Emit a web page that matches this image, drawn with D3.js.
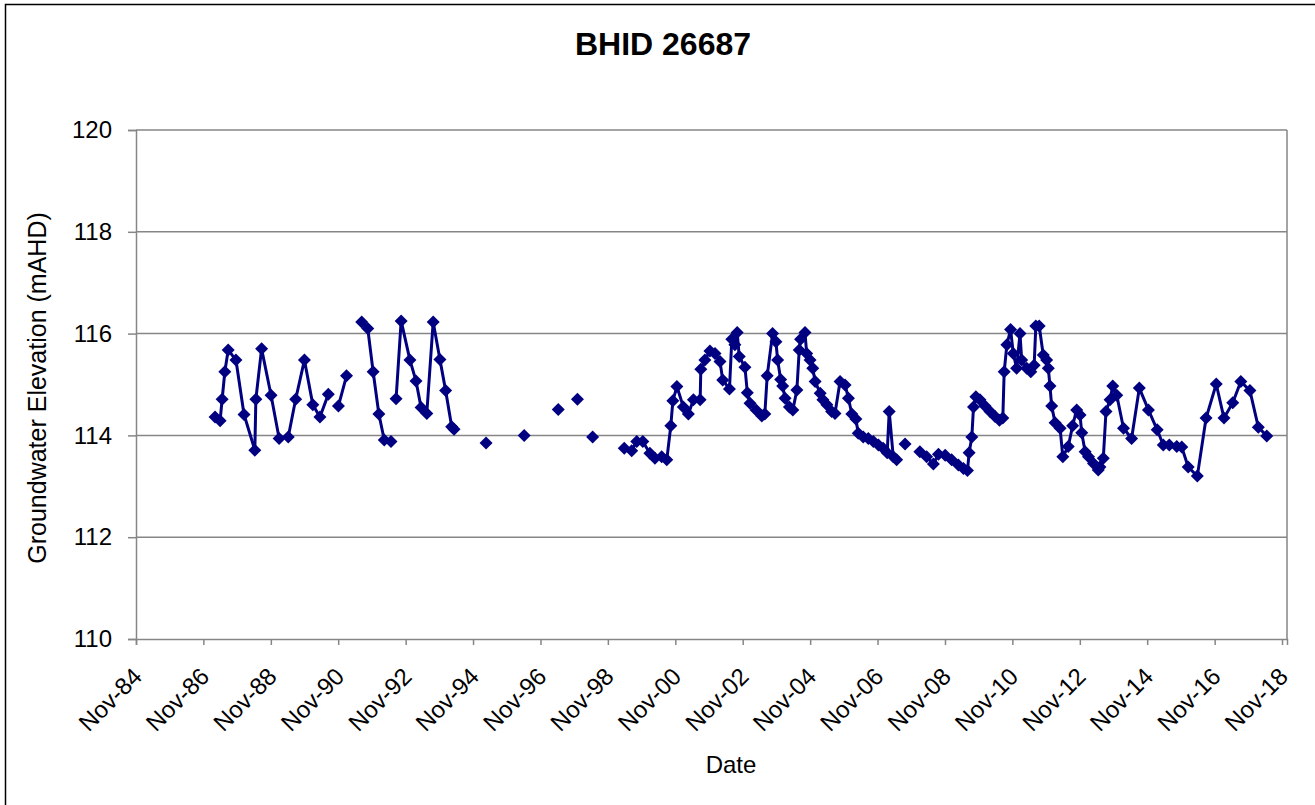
<!DOCTYPE html>
<html>
<head>
<meta charset="utf-8">
<script src="https://cdn.jsdelivr.net/npm/d3@7"></script>
<style>
  html, body { margin: 0; padding: 0; background: #fff; }
  svg { display: block; font-family: "Liberation Sans", Arial, sans-serif; }
</style>
</head>
<body>
<svg id="chart" width="1315" height="805"></svg>
<script>
// ---- Data (dates as decimal years; null level = gap in the line) ----
const chartTitle = "BHID 26687";
const xTitle = "Date";
const yTitle = "Groundwater Elevation  (mAHD)";

const dates = [
  1987.18, 1987.33, 1987.39, 1987.47, 1987.57, 1987.80, 1988.04, 1988.36, 1988.39, 1988.56,
  1988.84, 1989.08, 1989.35, 1989.57, 1989.83, 1990.08, 1990.29, 1990.54, 1990.70, 1990.84,
  1991.08, 1991.30, 1991.53, 1991.71, 1991.87, 1992.04, 1992.20, 1992.40, 1992.48, 1992.55,
  1992.70, 1992.96, 1993.14, 1993.29, 1993.46, 1993.65, 1993.85, 1994.02, 1994.20, 1994.27,
  1994.70, 1995.22, 1995.80, 1996.35, 1996.90, 1997.36, 1997.60, 1997.93, 1998.10, 1998.38,
  1998.80,
  1999.32, 1999.54, 1999.69, 1999.87, 2000.08, 2000.23, 2000.43, 2000.58, 2000.70, 2000.76,
  2000.88, 2001.07, 2001.22, 2001.37, 2001.57, 2001.59, 2001.71, 2001.86, 2002.01, 2002.16,
  2002.24, 2002.44, 2002.51, 2002.60, 2002.67, 2002.73, 2002.90, 2002.97, 2003.05, 2003.23,
  2003.40, 2003.49, 2003.56, 2003.72, 2003.82, 2003.87, 2003.96, 2004.02, 2004.09, 2004.22,
  2004.32, 2004.44, 2004.51, 2004.55, 2004.68, 2004.73, 2004.83, 2004.91, 2004.98, 2005.13,
  2005.21, 2005.33, 2005.47, 2005.57, 2005.72, 2005.87, 2005.97, 2006.07, 2006.19, 2006.26,
  2006.41, 2006.56, 2006.71, 2006.86, 2007.00, 2007.12, 2007.18, 2007.30, 2007.40, 2007.52,
  2007.65, 2007.85,
  2008.09, 2008.29, 2008.49, 2008.64, 2008.84, 2009.03, 2009.23, 2009.38, 2009.50, 2009.55,
  2009.63, 2009.68, 2009.75, 2009.87, 2010.02, 2010.17, 2010.32, 2010.45, 2010.55, 2010.59,
  2010.67, 2010.78, 2010.86, 2010.96, 2011.06, 2011.11, 2011.26, 2011.38, 2011.48, 2011.53,
  2011.63, 2011.75, 2011.85, 2011.90, 2011.95, 2012.00, 2012.10, 2012.25, 2012.33, 2012.49,
  2012.62, 2012.74, 2012.84, 2012.89, 2012.99, 2013.09, 2013.24, 2013.38, 2013.43, 2013.53,
  2013.61, 2013.73, 2013.81, 2013.93, 2014.13, 2014.37, 2014.60, 2014.87, 2015.13, 2015.31,
  2015.49, 2015.71, 2015.86, 2016.05, 2016.32, 2016.58, 2016.88, 2017.11, 2017.37, 2017.61,
  2017.88, 2018.13, 2018.38
];
const levels = [
  114.36, 114.29, 114.71, 115.25, 115.68, 115.48, 114.41, 113.71, 114.71, 115.70,
  114.79, 113.94, 113.97, 114.71, 115.48, 114.60, 114.36, 114.81, null,   114.58,
  115.17, null,   116.23, 116.10, 115.25, 114.42, 113.91, 113.88, null,   114.72,
  116.25, 115.48, 115.07, 114.55, 114.43, 116.23, 115.49, 114.88, 114.17, 114.12,
  null,   113.85, null,   114.00, null,   114.51, null,   114.71, null,   113.97,
  null,
  113.75, 113.70, 113.88, 113.88, 113.65, 113.55, 113.58, 113.52, 114.19, 114.68,
  114.96, 114.56, 114.42, 114.70, 114.70, 115.30, 115.48, 115.66, 115.61, 115.45,
  115.09, 114.91, 115.89, 115.78, 116.02, 115.55, 115.34, 114.84, 114.63, 114.50,
  114.38, 114.42, 115.17, 116.00, 115.84, 115.48, 115.10, 114.97, 114.73, 114.56,
  114.50, 114.89, 115.68, 115.89, 116.02, 115.61, 115.48, 115.32, 115.06, 114.83,
  114.70, 114.60, 114.47, 114.43, 115.06, 114.99, 114.73, 114.42, 114.32, 114.04,
  113.97, 113.94, 113.88, 113.81, 113.75, 113.66, 114.47, 113.58, 113.52, null,
  113.83, null,
  113.68, 113.58, 113.44, 113.63, 113.61, 113.52, 113.42, 113.35, 113.31, 113.66,
  113.97, 114.56, 114.76, 114.70, 114.58, 114.47, 114.37, 114.30, 114.34, 115.25,
  115.78, 116.08, 115.61, 115.32, 116.00, 115.48, 115.32, 115.25, 115.38, 116.15,
  116.15, 115.58, 115.48, 115.32, 114.97, 114.58, 114.25, 114.14, 113.58, 113.78,
  114.19, 114.50, 114.40, 114.05, 113.68, 113.58, 113.45, 113.32, 113.38, 113.55,
  114.47, 114.70, 114.97, 114.79, 114.14, 113.94, 114.93, 114.50, 114.11, 113.81,
  113.81, 113.78, 113.77, 113.38, 113.20, 114.34, 115.01, 114.34, 114.64, 115.06,
  114.88, 114.16, 113.99
];
const xTickYears = [1984, 1986, 1988, 1990, 1992, 1994, 1996, 1998, 2000, 2002,
                    2004, 2006, 2008, 2010, 2012, 2014, 2016, 2018];
const yTicks = [110, 112, 114, 116, 118, 120];

// ---- helpers ----
function decToDate(dy) {
  const yr = Math.floor(dy);
  const start = new Date(yr, 0, 1), end = new Date(yr + 1, 0, 1);
  return new Date(start.getTime() + (dy - yr) * (end - start));
}
const data = dates.map((d, i) => ({ date: decToDate(d), v: levels[i] }));

// ---- layout ----
const svg = d3.select("#chart");
const pLeft = 136, pRight = 1287, pTop = 130, pBottom = 639;

const x = d3.scaleTime()
  .domain([new Date(1984, 10, 1), new Date(2018, 11, 25)])
  .range([pLeft, pRight]);
const y = d3.scaleLinear().domain([110, 120]).range([pBottom, pTop]);

// outer chart border
svg.append("rect").attr("x", 5.5).attr("y", 4.5).attr("width", 1330).attr("height", 820)
  .attr("fill", "none").attr("stroke", "#000").attr("stroke-width", 1.5);

// gridlines
svg.append("g").selectAll("line").data(yTicks.filter(t => t > 110)).join("line")
  .attr("x1", pLeft).attr("x2", pRight)
  .attr("y1", d => y(d)).attr("y2", d => y(d))
  .attr("stroke", "#868686").attr("stroke-width", 1.5);

// plot area border (right side)
svg.append("line").attr("x1", pRight).attr("x2", pRight).attr("y1", pTop).attr("y2", pBottom)
  .attr("stroke", "#868686").attr("stroke-width", 1.5);

// Y axis
const yAxis = svg.append("g").attr("transform", `translate(${pLeft},0)`)
  .call(d3.axisLeft(y).tickValues(yTicks).tickSize(8).tickPadding(16).tickFormat(d3.format("d")));
yAxis.select(".domain").attr("stroke", "#868686").attr("stroke-width", 1.5);
yAxis.selectAll(".tick line").attr("stroke", "#868686").attr("stroke-width", 1.5);
yAxis.selectAll(".tick text").attr("font-size", 24).attr("fill", "#000")
  .attr("font-family", "'Liberation Sans', Arial, sans-serif");

// X axis
const xTicks = xTickYears.map(yr => new Date(yr, 10, 1));
const xAxis = svg.append("g").attr("transform", `translate(0,${pBottom})`)
  .call(d3.axisBottom(x).tickValues(xTicks).tickSize(6).tickFormat(d3.timeFormat("%b-%y")));
xAxis.select(".domain").attr("stroke", "#868686").attr("stroke-width", 1.5);
xAxis.selectAll(".tick line").attr("stroke", "#868686").attr("stroke-width", 1.5);
xAxis.selectAll(".tick text")
  .attr("font-size", 24).attr("fill", "#000")
  .attr("font-family", "'Liberation Sans', Arial, sans-serif")
  .attr("text-anchor", "end")
  .attr("x", 0).attr("y", 0).attr("dy", "0.35em")
  .attr("transform", "translate(1,33) rotate(-45)");

// line (with gaps)
const line = d3.line()
  .defined(d => d.v != null)
  .x(d => x(d.date)).y(d => y(d.v));
svg.append("path").datum(data)
  .attr("d", line)
  .attr("fill", "none").attr("stroke", "#000080").attr("stroke-width", 3)
  .attr("stroke-linejoin", "round");

// diamond markers
svg.append("g").selectAll("path").data(data.filter(d => d.v != null)).join("path")
  .attr("d", "M0,-6.5L6.5,0L0,6.5L-6.5,0Z")
  .attr("transform", d => `translate(${x(d.date)},${y(d.v)})`)
  .attr("fill", "#000080");

// titles
svg.append("text").attr("x", 663).attr("y", 55).attr("text-anchor", "middle")
  .attr("font-size", 32).attr("font-weight", "bold").text(chartTitle);
svg.append("text").attr("x", 731).attr("y", 773).attr("text-anchor", "middle")
  .attr("font-size", 24).text(xTitle);
svg.append("text").attr("transform", "translate(46,388) rotate(-90)")
  .attr("text-anchor", "middle").attr("font-size", 25).text(yTitle);
</script>
</body>
</html>
